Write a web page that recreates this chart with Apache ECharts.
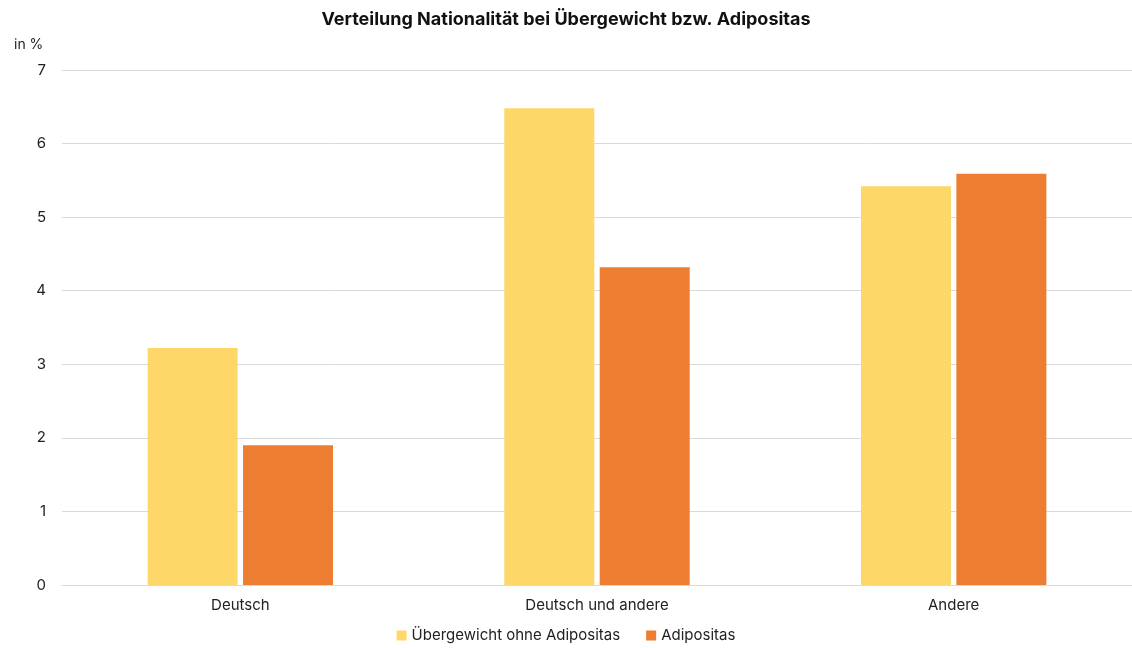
<!DOCTYPE html>
<html>
<head>
<meta charset="utf-8">
<script src="https://cdn.jsdelivr.net/npm/echarts@6/dist/echarts.min.js"></script>
<style>
  html, body { margin: 0; padding: 0; background: #fff; }
  #chart { width: 1132px; height: 648px; }
</style>
</head>
<body>
<div id="chart"></div>
<script>
const categories = ['Deutsch', 'Deutsch und andere', 'Andere'];
const uebergewicht = [3.22, 6.48, 5.42];
const adipositas = [1.9, 4.32, 5.59];
const seriesNames = ['Übergewicht ohne Adipositas', 'Adipositas'];

const font = 'Inter, "Noto Sans", sans-serif';
const chart = echarts.init(document.getElementById('chart'));

const option = {
    backgroundColor: '#fff',
    textStyle: { fontFamily: font },
    title: [{
        text: 'Verteilung Nationalität bei Übergewicht bzw. Adipositas',
        left: 'center',
        top: 6,
        textStyle: { fontSize: 18, fontWeight: 'bold', color: '#111', fontFamily: font }
    }, {
        text: 'in %',
        left: 9,
        top: 33,
        textStyle: { fontSize: 14, fontWeight: 'normal', color: '#222', fontFamily: font }
    }],
    legend: {
        data: seriesNames,
        bottom: 0,
        left: 'center',
        icon: 'rect',
        itemWidth: 10,
        itemHeight: 10,
        itemGap: 26,
        textStyle: { fontSize: 15, color: '#222', fontFamily: font }
    },
    grid: { left: 62, width: 1076, top: 70, bottom: 63, containLabel: false },
    xAxis: {
        type: 'category',
        data: categories,
        axisLine: { lineStyle: { color: '#d9d9d9' } },
        axisTick: { show: false },
        axisLabel: { fontSize: 15, color: '#222', margin: 13, fontFamily: font }
    },
    yAxis: {
        type: 'value',
        min: 0,
        max: 7,
        interval: 1,
        axisLine: { show: false },
        axisTick: { show: false },
        axisLabel: { fontSize: 15, color: '#222', margin: 16, fontFamily: font },
        splitLine: { lineStyle: { color: '#d9d9d9' } }
    },
    series: [{
        name: seriesNames[0],
        type: 'bar',
        data: uebergewicht,
        barWidth: 90,
        barGap: '6%',
        itemStyle: { color: '#FDD868' }
    }, {
        name: seriesNames[1],
        type: 'bar',
        data: adipositas,
        barWidth: 90,
        itemStyle: { color: '#ED7D31' }
    }]
};

chart.setOption(option);
</script>
</body>
</html>
